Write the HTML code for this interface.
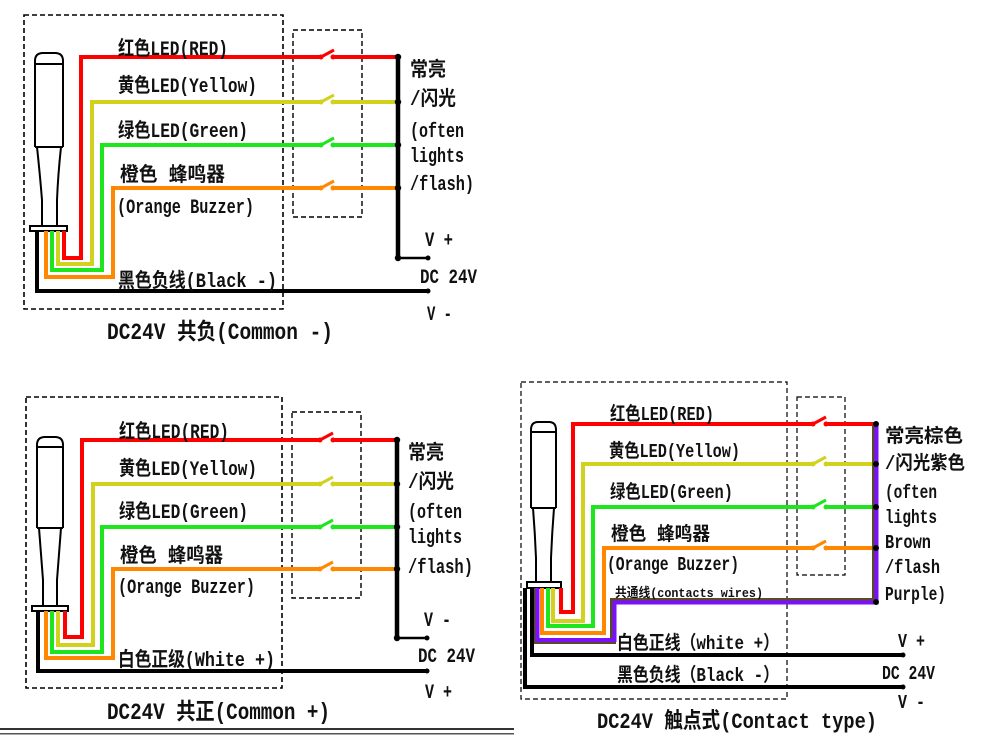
<!DOCTYPE html>
<html>
<head>
<meta charset="utf-8">
<style>
  html,body{margin:0;padding:0;background:#fff;}
  svg{display:block;}
  text{font-family:"Liberation Mono","Noto Sans CJK SC",monospace;font-weight:700;fill:#111;}
</style>
</head>
<body>
<svg width="990" height="740" viewBox="0 0 990 740" xmlns="http://www.w3.org/2000/svg">
  <rect x="0" y="0" width="990" height="740" fill="#fff"/>

  <!-- ================= TOP-LEFT: Common - ================= -->
  <g fill="none" stroke="#000">
    <rect x="24" y="15" width="259" height="294" stroke-width="1.6" stroke-dasharray="5 3"/>
    <rect x="293" y="30" width="69" height="187" stroke-width="1.4" stroke-dasharray="5 3"/>
  </g>
  <g fill="none" stroke="#000" stroke-width="2">
    <path d="M35,147 V61 Q35,53 43,53 H55 Q63,53 63,61 V147"/>
    <line x1="35" y1="64" x2="63" y2="64"/>
    <line x1="35" y1="147" x2="63" y2="147"/>
    <path d="M37,147 Q40,175 42,200 V226"/>
    <path d="M61,147 Q58,175 57,200 V226"/>
    <rect x="30" y="226" width="37" height="5" fill="#fff"/>
  </g>
  <g fill="none" stroke-width="4" stroke-linejoin="miter">
    <path d="M64,231 V258 H81 V57 H321 M333,57 H398" stroke="#ff0000"/>
    <path d="M58,231 V264 H92 V102 H321 M333,102 H398" stroke="#d2d21e"/>
    <path d="M52,231 V270 H102 V145 H321 M333,145 H398" stroke="#1ee61e"/>
    <path d="M46,231 V277 H113 V188 H321 M333,188 H398" stroke="#ff8800"/>
    <path d="M37,231 V291 H428" stroke="#000"/>
  </g>
  <g stroke-width="3">
    <line x1="321" y1="57" x2="334" y2="50" stroke="#ff0000"/>
    <line x1="321" y1="102" x2="334" y2="95" stroke="#d2d21e"/>
    <line x1="321" y1="145" x2="334" y2="138" stroke="#1ee61e"/>
    <line x1="321" y1="188" x2="334" y2="181" stroke="#ff8800"/>
  </g>
  <g>
    <circle cx="321" cy="57" r="2.5" fill="#ff0000"/><circle cx="333" cy="57" r="2.5" fill="#ff0000"/>
    <circle cx="321" cy="102" r="2.5" fill="#d2d21e"/><circle cx="333" cy="102" r="2.5" fill="#d2d21e"/>
    <circle cx="321" cy="145" r="2.5" fill="#1ee61e"/><circle cx="333" cy="145" r="2.5" fill="#1ee61e"/>
    <circle cx="321" cy="188" r="2.5" fill="#ff8800"/><circle cx="333" cy="188" r="2.5" fill="#ff8800"/>
  </g>
  <path d="M398,57 V258" stroke="#000" stroke-width="4.5" fill="none"/>
  <path d="M398,258 H428" stroke="#000" stroke-width="2.5" fill="none"/>
  <g fill="#000">
    <circle cx="398" cy="57" r="3.2"/><circle cx="398" cy="102" r="3.2"/>
    <circle cx="398" cy="145" r="3.2"/><circle cx="398" cy="188" r="3.2"/>
    <circle cx="398" cy="258" r="3.2"/>
    <circle cx="428" cy="258" r="2.5"/><circle cx="428" cy="291" r="2.5"/>
  </g>
  <g font-size="20">
    <text x="118" y="55" textLength="110" lengthAdjust="spacingAndGlyphs">红色LED(RED)</text>
    <text x="118" y="92" textLength="139" lengthAdjust="spacingAndGlyphs">黄色LED(Yellow)</text>
    <text x="118" y="137" textLength="130" lengthAdjust="spacingAndGlyphs">绿色LED(Green)</text>
    <text x="120" y="181" textLength="105" lengthAdjust="spacingAndGlyphs">橙色 蜂鸣器</text>
    <text x="117" y="213" textLength="137" lengthAdjust="spacingAndGlyphs">(Orange Buzzer)</text>
    <text x="118" y="287" textLength="159" lengthAdjust="spacingAndGlyphs">黑色负线(Black -)</text>
    <text x="410" y="76" textLength="36" lengthAdjust="spacingAndGlyphs">常亮</text>
    <text x="410" y="105" textLength="46" lengthAdjust="spacingAndGlyphs">/闪光</text>
    <text x="410" y="137" textLength="54" lengthAdjust="spacingAndGlyphs">(often</text>
    <text x="410" y="162" textLength="54" lengthAdjust="spacingAndGlyphs">lights</text>
    <text x="410" y="190" textLength="64" lengthAdjust="spacingAndGlyphs">/flash)</text>
    <text x="425" y="246" textLength="28" lengthAdjust="spacingAndGlyphs">V +</text>
    <text x="420" y="283" textLength="57" lengthAdjust="spacingAndGlyphs">DC 24V</text>
    <text x="427" y="320" textLength="25" lengthAdjust="spacingAndGlyphs">V -</text>
  </g>
  <text x="107" y="339" font-size="23" textLength="226" lengthAdjust="spacingAndGlyphs">DC24V 共负(Common -)</text>

  <!-- ================= BOTTOM-LEFT: Common + ================= -->
  <g fill="none" stroke="#000">
    <rect x="26" y="397" width="256" height="291" stroke-width="1.6" stroke-dasharray="5 3"/>
    <rect x="292" y="412" width="69" height="186" stroke-width="1.4" stroke-dasharray="5 3"/>
  </g>
  <g fill="none" stroke="#000" stroke-width="2">
    <path d="M37,528 V445 Q37,437 45,437 H55 Q63,437 63,445 V528"/>
    <line x1="37" y1="447" x2="63" y2="447"/>
    <line x1="37" y1="528" x2="63" y2="528"/>
    <path d="M39,528 Q41,555 43,580 V606"/>
    <path d="M61,528 Q59,555 57,580 V606"/>
    <rect x="32" y="606" width="36" height="5" fill="#fff"/>
  </g>
  <g fill="none" stroke-width="4">
    <path d="M65,611 V637 H82 V440 H320 M333,440 H397" stroke="#ff0000"/>
    <path d="M58,611 V645 H93 V484 H320 M333,484 H397" stroke="#d2d21e"/>
    <path d="M52,611 V652 H102 V527 H320 M333,527 H397" stroke="#1ee61e"/>
    <path d="M46,611 V658 H113 V569 H320 M333,569 H397" stroke="#ff8800"/>
    <path d="M38,611 V671 H427" stroke="#000"/>
  </g>
  <g stroke-width="3">
    <line x1="320" y1="440" x2="333" y2="433" stroke="#ff0000"/>
    <line x1="320" y1="484" x2="333" y2="477" stroke="#d2d21e"/>
    <line x1="320" y1="527" x2="333" y2="520" stroke="#1ee61e"/>
    <line x1="320" y1="569" x2="333" y2="562" stroke="#ff8800"/>
  </g>
  <g>
    <circle cx="320" cy="440" r="2.5" fill="#ff0000"/><circle cx="333" cy="440" r="2.5" fill="#ff0000"/>
    <circle cx="320" cy="484" r="2.5" fill="#d2d21e"/><circle cx="333" cy="484" r="2.5" fill="#d2d21e"/>
    <circle cx="320" cy="527" r="2.5" fill="#1ee61e"/><circle cx="333" cy="527" r="2.5" fill="#1ee61e"/>
    <circle cx="320" cy="569" r="2.5" fill="#ff8800"/><circle cx="333" cy="569" r="2.5" fill="#ff8800"/>
  </g>
  <path d="M397,440 V638" stroke="#000" stroke-width="4.5" fill="none"/>
  <path d="M397,638 H427" stroke="#000" stroke-width="2.5" fill="none"/>
  <g fill="#000">
    <circle cx="397" cy="440" r="3.2"/><circle cx="397" cy="484" r="3.2"/>
    <circle cx="397" cy="527" r="3.2"/><circle cx="397" cy="569" r="3.2"/>
    <circle cx="397" cy="638" r="3.2"/>
    <circle cx="427" cy="638" r="2.5"/><circle cx="427" cy="671" r="2.5"/>
  </g>
  <g font-size="20">
    <text x="119" y="438" textLength="110" lengthAdjust="spacingAndGlyphs">红色LED(RED)</text>
    <text x="119" y="475" textLength="138" lengthAdjust="spacingAndGlyphs">黄色LED(Yellow)</text>
    <text x="119" y="518" textLength="129" lengthAdjust="spacingAndGlyphs">绿色LED(Green)</text>
    <text x="120" y="562" textLength="103" lengthAdjust="spacingAndGlyphs">橙色 蜂鸣器</text>
    <text x="118" y="593" textLength="137" lengthAdjust="spacingAndGlyphs">(Orange Buzzer)</text>
    <text x="118" y="666" textLength="157" lengthAdjust="spacingAndGlyphs">白色正级(White +)</text>
    <text x="408" y="459" textLength="36" lengthAdjust="spacingAndGlyphs">常亮</text>
    <text x="408" y="488" textLength="46" lengthAdjust="spacingAndGlyphs">/闪光</text>
    <text x="408" y="518" textLength="54" lengthAdjust="spacingAndGlyphs">(often</text>
    <text x="408" y="543" textLength="54" lengthAdjust="spacingAndGlyphs">lights</text>
    <text x="408" y="573" textLength="65" lengthAdjust="spacingAndGlyphs">/flash)</text>
    <text x="424" y="626" textLength="27" lengthAdjust="spacingAndGlyphs">V -</text>
    <text x="418" y="662" textLength="57" lengthAdjust="spacingAndGlyphs">DC 24V</text>
    <text x="425" y="698" textLength="27" lengthAdjust="spacingAndGlyphs">V +</text>
  </g>
  <text x="107" y="719" font-size="23" textLength="223" lengthAdjust="spacingAndGlyphs">DC24V 共正(Common +)</text>
  <rect x="0" y="728" width="514" height="2" fill="#333"/>
  <rect x="0" y="733" width="514" height="1.5" fill="#555"/>

  <!-- ================= BOTTOM-RIGHT: Contact type ================= -->
  <g fill="none" stroke="#000">
    <rect x="521" y="382" width="266" height="317" stroke-width="1.2" stroke-dasharray="5 3"/>
    <rect x="797" y="397" width="48" height="178" stroke-width="1.2" stroke-dasharray="5 3"/>
  </g>
  <g fill="none" stroke="#000" stroke-width="2">
    <path d="M531,508 V430 Q531,422 538,422 H549 Q556,422 556,430 V508"/>
    <line x1="531" y1="432" x2="556" y2="432"/>
    <line x1="531" y1="508" x2="556" y2="508"/>
    <path d="M533,508 Q535,533 536,558 V582"/>
    <path d="M554,508 Q552,533 551,558 V582"/>
    <rect x="527" y="582" width="34" height="6" fill="#fff"/>
  </g>
  <g fill="none" stroke-width="4">
    <path d="M561,588 V612 H573 V424 H813 M826,424 H876" stroke="#ff0000"/>
    <path d="M553,588 V621 H583 V464 H813 M826,464 H876" stroke="#d2d21e"/>
    <path d="M548,588 V626 H593 V507 H813 M826,507 H876" stroke="#1ee61e"/>
    <path d="M542,588 V633 H604 V548 H813 M826,548 H876" stroke="#ff8800"/>
    <path d="M536,588 V641 H613 V601 H875 V424" stroke="#5a4a28" stroke-width="6"/>
    <path d="M537.5,588 V640 H614.5 V602.5 H876.5 V424" stroke="#7b10ff" stroke-width="4"/>
    <path d="M532,588 V655 H903" stroke="#000"/>
    <path d="M525,588 V687 H903" stroke="#000"/>
  </g>
  <g stroke-width="3">
    <line x1="813" y1="424" x2="826" y2="417" stroke="#ff0000"/>
    <line x1="813" y1="464" x2="826" y2="457" stroke="#d2d21e"/>
    <line x1="813" y1="507" x2="826" y2="500" stroke="#1ee61e"/>
    <line x1="813" y1="548" x2="826" y2="541" stroke="#ff8800"/>
  </g>
  <g>
    <circle cx="813" cy="424" r="2.5" fill="#ff0000"/><circle cx="826" cy="424" r="2.5" fill="#ff0000"/>
    <circle cx="813" cy="464" r="2.5" fill="#d2d21e"/><circle cx="826" cy="464" r="2.5" fill="#d2d21e"/>
    <circle cx="813" cy="507" r="2.5" fill="#1ee61e"/><circle cx="826" cy="507" r="2.5" fill="#1ee61e"/>
    <circle cx="813" cy="548" r="2.5" fill="#ff8800"/><circle cx="826" cy="548" r="2.5" fill="#ff8800"/>
  </g>
  <g fill="#000">
    <circle cx="876" cy="424" r="3"/><circle cx="876" cy="464" r="3"/>
    <circle cx="876" cy="507" r="3"/><circle cx="876" cy="548" r="3"/>
    <circle cx="876" cy="602" r="3"/>
    <circle cx="903" cy="655" r="2.5"/><circle cx="903" cy="687" r="2.5"/>
  </g>
  <g font-size="19">
    <text x="610" y="420" textLength="104" lengthAdjust="spacingAndGlyphs">红色LED(RED)</text>
    <text x="609" y="457" textLength="131" lengthAdjust="spacingAndGlyphs">黄色LED(Yellow)</text>
    <text x="610" y="498" textLength="123" lengthAdjust="spacingAndGlyphs">绿色LED(Green)</text>
    <text x="611" y="540" textLength="99" lengthAdjust="spacingAndGlyphs">橙色 蜂鸣器</text>
    <text x="607" y="570" textLength="132" lengthAdjust="spacingAndGlyphs">(Orange Buzzer)</text>
    <text x="617" y="649" textLength="162" lengthAdjust="spacingAndGlyphs">白色正线（white +）</text>
    <text x="617" y="681" textLength="162" lengthAdjust="spacingAndGlyphs">黑色负线（Black -）</text>
    <text x="885" y="442" textLength="78" lengthAdjust="spacingAndGlyphs">常亮棕色</text>
    <text x="885" y="469" textLength="80" lengthAdjust="spacingAndGlyphs">/闪光紫色</text>
    <text x="885" y="498" textLength="52" lengthAdjust="spacingAndGlyphs">(often</text>
    <text x="885" y="523" textLength="52" lengthAdjust="spacingAndGlyphs">lights</text>
    <text x="885" y="548" textLength="46" lengthAdjust="spacingAndGlyphs">Brown</text>
    <text x="885" y="573" textLength="55" lengthAdjust="spacingAndGlyphs">/flash</text>
    <text x="885" y="600" textLength="61" lengthAdjust="spacingAndGlyphs">Purple)</text>
    <text x="898" y="647" textLength="27" lengthAdjust="spacingAndGlyphs">V +</text>
    <text x="882" y="679" textLength="53" lengthAdjust="spacingAndGlyphs">DC 24V</text>
    <text x="898" y="708" textLength="27" lengthAdjust="spacingAndGlyphs">V -</text>
  </g>
  <text x="615" y="597" font-size="13" textLength="148" lengthAdjust="spacingAndGlyphs">共通线(contacts wires)</text>
  <text x="597" y="728" font-size="22" textLength="280" lengthAdjust="spacingAndGlyphs">DC24V 触点式(Contact type)</text>
</svg>
</body>
</html>
